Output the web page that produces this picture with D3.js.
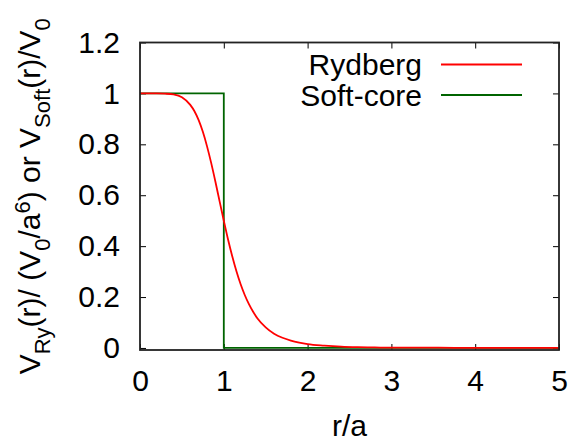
<!DOCTYPE html>
<html>
<head>
<meta charset="utf-8">
<script src="https://cdnjs.cloudflare.com/ajax/libs/d3/7.8.5/d3.min.js"></script>
<style>
  body { margin: 0; background: #fff; }
  text { font-family: "Liberation Sans", Arial, sans-serif; fill: #000; }
</style>
</head>
<body>
<script>
// values
var rydbergR = [0, 0.1, 0.2, 0.3, 0.4, 0.5, 0.6, 0.65, 0.7, 0.75, 0.8, 0.85, 0.9, 0.95, 1.0,
                1.05, 1.1, 1.15, 1.2, 1.25, 1.3, 1.35, 1.4, 1.5, 1.6, 1.7, 1.8, 1.9, 2.0,
                2.2, 2.4, 2.6, 2.8, 3.0, 3.5, 4.0, 4.5, 5.0];
var rydbergV = [1.000, 1.000, 1.000, 0.999, 0.996, 0.985, 0.955, 0.930, 0.895, 0.849, 0.792, 0.726, 0.653, 0.576, 0.500,
                0.427, 0.361, 0.302, 0.251, 0.208, 0.172, 0.142, 0.117, 0.081, 0.056, 0.040, 0.029, 0.021, 0.015,
                0.009, 0.005, 0.003, 0.002, 0.001, 0.001, 0.000, 0.000, 0.000];

var softR = [0, 1, 1, 5];
var softV = [1, 1, 0, 0];

var xTicks = [0, 1, 2, 3, 4, 5];
var yTicks = [0, 0.2, 0.4, 0.6, 0.8, 1, 1.2];
var seriesNames = ["Rydberg", "Soft-core"];
var seriesColors = ["#ff0000", "#006400"];

// set the dimensions and margins of the diagram
var margin = {top: 42.5, right: 12, bottom: 91, left: 140},
    width = 571 - margin.left - margin.right,
    height = 441 - margin.top - margin.bottom;

var svg = d3.select("body").append("svg")
    .attr("width", 571)
    .attr("height", 441);

var g = svg.append("g")
    .attr("transform", "translate(" + margin.left + "," + margin.top + ")");

var x = d3.scaleLinear().domain([0, 5]).range([0, width]);
var y = d3.scaleLinear().domain([-0.008, 1.2]).range([height, 0]);

var fs = 30;

// axes: ticks point inwards, mirrored on top and right
var tickLen = 6;
g.append("g")
    .attr("transform", "translate(0," + height + ")")
    .call(d3.axisBottom(x).tickValues(xTicks).tickSize(-tickLen).tickPadding(tickLen + 14).tickFormat(d3.format("d")))
    .call(styleAxis);
g.append("g")
    .call(d3.axisTop(x).tickValues(xTicks).tickSize(-tickLen).tickFormat(""))
    .call(styleAxis);
g.append("g")
    .call(d3.axisLeft(y).tickValues(yTicks).tickSize(-tickLen).tickPadding(tickLen + 14).tickFormat(d3.format("~g")))
    .call(styleAxis);
g.append("g")
    .attr("transform", "translate(" + width + ",0)")
    .call(d3.axisRight(y).tickValues(yTicks).tickSize(-tickLen).tickFormat(""))
    .call(styleAxis);

function styleAxis(sel) {
  sel.select(".domain").remove();
  sel.selectAll(".tick line").attr("stroke", "#000").attr("stroke-width", 1);
  sel.selectAll(".tick text").style("font-size", fs + "px").attr("fill", "#000");
}

// the curves
var line = d3.line()
    .x(function(d) { return x(d[0]); })
    .y(function(d) { return y(d[1]); });

g.append("path")
    .datum(softR.map(function(r, i) { return [r, softV[i]]; }))
    .attr("fill", "none")
    .attr("stroke", seriesColors[1])
    .attr("stroke-width", 1.8)
    .attr("d", line);

g.append("path")
    .datum(rydbergR.map(function(r, i) { return [r, rydbergV[i]]; }))
    .attr("fill", "none")
    .attr("stroke", seriesColors[0])
    .attr("stroke-width", 1.8)
    .attr("d", line.curve(d3.curveMonotoneX));

// frame
g.append("rect")
    .attr("width", width)
    .attr("height", height)
    .attr("fill", "none")
    .attr("stroke", "#222")
    .attr("stroke-width", 1.8);

// legend
var legend = g.selectAll(".legend")
    .data(seriesNames)
  .enter().append("g")
    .attr("class", "legend")
    .attr("transform", function(d, i) { return "translate(0," + (22 + i * 30.5) + ")"; });

legend.append("text")
    .attr("x", 282)
    .attr("dy", "0.36em")
    .attr("text-anchor", "end")
    .style("font-size", fs + "px")
    .text(function(d) { return d; });

legend.append("line")
    .attr("x1", 301)
    .attr("x2", 382)
    .attr("stroke", function(d, i) { return seriesColors[i]; })
    .attr("stroke-width", 1.8);

// axis titles
svg.append("text")
    .attr("x", margin.left + width / 2)
    .attr("y", 436)
    .attr("text-anchor", "middle")
    .style("font-size", fs + "px")
    .text("r/a");

var yl = svg.append("text")
    .attr("transform", "translate(40," + (margin.top + height / 2) + ") rotate(-90)")
    .attr("text-anchor", "middle")
    .style("font-size", fs + "px");

// label pieces: [text, shift] where shift is sub / sup / normal
var parts = [["V", 0], ["Ry", -1], ["(r)/ (V", 0], ["0", -1], ["/a", 0], ["6", 1], [") or V", 0], ["Soft", -1], ["(r)/V", 0], ["0", -1]];
var prev = 0;
parts.forEach(function(p) {
  var shift = p[1] * 10;
  yl.append("tspan")
    .attr("dy", (prev - shift) + "px")
    .style("font-size", (p[1] ? 22 : fs) + "px")
    .text(p[0]);
  prev = shift;
});
</script>
</body>
</html>
